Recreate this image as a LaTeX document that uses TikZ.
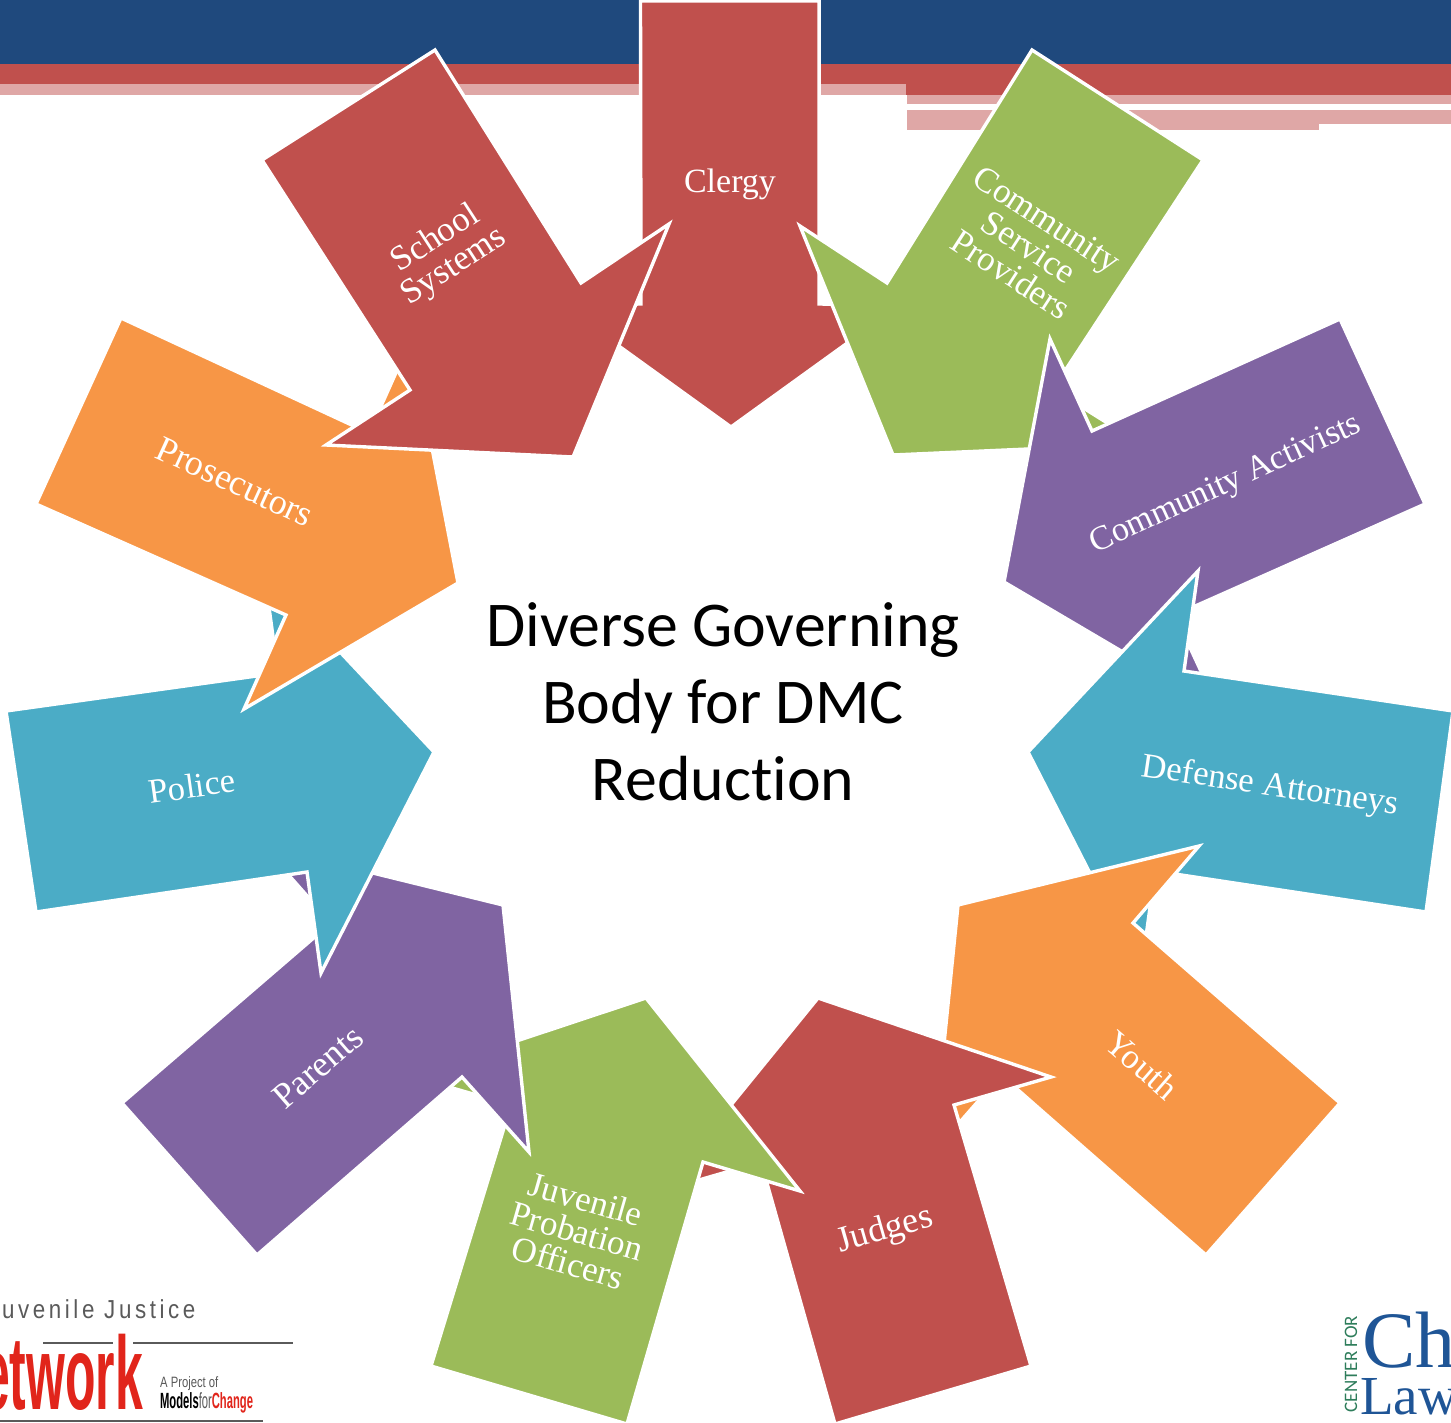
\documentclass[tikz,border=0pt]{standalone}
\usepackage{fontspec}
\setmainfont{Liberation Serif}
\newfontfamily\carlito[Ligatures=NoCommon]{Carlito}
\newfontfamily\lsans{Liberation Sans}
\newfontfamily\lspaced[LetterSpace=16]{Liberation Sans}
\definecolor{cblue}{HTML}{1F497D}
\definecolor{cred}{HTML}{C0504D}
\definecolor{cpink}{HTML}{DFA7A6}
\definecolor{cgreen}{HTML}{9BBB59}
\definecolor{cpurple}{HTML}{8064A2}
\definecolor{caqua}{HTML}{4BACC6}
\definecolor{corange}{HTML}{F79646}
\definecolor{lgray}{HTML}{5A5A5A}
\definecolor{lred}{HTML}{E1251B}
\definecolor{lblue}{HTML}{1F5596}
\definecolor{lgreen}{HTML}{2E7D5B}
\tikzset{
  arrowpoly/.style={draw=white,line width=3.4pt,line join=miter,miter limit=20,fill=#1},
  lab/.style={text=white,font=\fontsize{#1}{33}\selectfont,align=center,inner sep=0pt},
  lab/.default=35,
  logo/.style={inner sep=0pt,anchor=base west},
  logoline/.style={draw=lgray,line width=2.2pt}
}
\begin{document}
\begin{tikzpicture}[x=1pt,y=-1pt]
\useasboundingbox (0,0) rectangle (1451,1422);
\fill[white] (0,0) rectangle (1451,1422);
% header bands
\fill[cblue] (0,0) rectangle (640,64);
\fill[cblue] (821,0) rectangle (1451,64);
\fill[cred] (0,64) rectangle (640,84);
\fill[cpink] (0,84) rectangle (640,95);
\fill[cred] (821,64) rectangle (906,84);
\fill[cpink] (821,84) rectangle (906,95);
\fill[cred] (906,64) rectangle (1451,95);
\fill[cpink] (907,95) rectangle (1451,104);
\fill[cpink] (907,110) rectangle (1319,130);
\fill[cpink] (1319,110) rectangle (1451,124);
% arrows
\draw[arrowpoly=cred] (640.5,1) -- (819,1) -- (819,304) -- (900,305) -- (731,427) -- (562,305) -- (641,304) -- cycle;
\draw[arrowpoly=cgreen] (1032,50) -- (1203,160) -- (1053,389) -- (1141,444) -- (893,455) -- (800,226) -- (887,283) -- cycle;
\draw[arrowpoly=cpurple] (1340,319) -- (1425,504) -- (1175,615) -- (1218,708) -- (1004,582) -- (1050,339) -- (1092,431) -- cycle;
\draw[arrowpoly=caqua] (1453,711) -- (1426,912) -- (1155,871) -- (1141,973) -- (1028,752) -- (1198,571) -- (1184,671) -- cycle;
\draw[arrowpoly=corange] (1340,1103) -- (1206,1255) -- (1001,1075) -- (933,1153) -- (958,905) -- (1199,846) -- (1133,923) -- cycle;
\draw[arrowpoly=cred] (1031,1366) -- (835,1424) -- (761,1162) -- (661,1191) -- (818,998) -- (1051,1077) -- (954,1105) -- cycle;
\draw[arrowpoly=cgreen] (431,1366) -- (627,1424) -- (703,1162) -- (800,1191) -- (646,998) -- (411,1076) -- (511,1105) -- cycle;
\draw[arrowpoly=cpurple] (122,1103) -- (257,1255) -- (462,1077) -- (529,1152) -- (503,905) -- (263,846) -- (331,923) -- cycle;
\draw[arrowpoly=caqua] (6,711) -- (36,912) -- (307,872) -- (321,973) -- (434,752) -- (264,571) -- (278,673) -- cycle;
\draw[arrowpoly=corange] (121,318) -- (36,504) -- (286,615) -- (244,709) -- (458,583) -- (411,339) -- (369,433) -- cycle;
\draw[arrowpoly=cred] (435,50) -- (262,160) -- (410,390) -- (326,445) -- (573,457) -- (669,224) -- (581,283) -- cycle;
% labels
\node[lab=34] (clergy) at (730,184) {Clergy};
\node[lab,rotate=-33] (service) at (1029,247) {Community\\Service\\Providers};
\node[lab=34.3,rotate=24.6] (activists) at (1226,485) {Community Activists};
\node[lab=34.7,rotate=-8.5] (defense) at (1270,787) {Defense Attorneys};
\node[lab,rotate=-41] (youth) at (1142,1065) {Youth};
\node[lab=36,rotate=16] (judges) at (885,1231) {Judges};
\node[lab,rotate=-16] (probation) at (577,1231) {Juvenile\\Probation\\Officers};
\node[lab=36,rotate=41] (parents) at (318,1067) {Parents};
\node[lab=34.5,rotate=8] (police) at (192,786) {Police};
\node[lab=36,rotate=-24.6] (prosecutors) at (235,482) {Prosecutors};
\node[lab,rotate=33] (school) at (445,253) {School\\Systems};
\node[text=black,font=\carlito\fontsize{63.8}{77}\selectfont,align=center,inner sep=0pt] (center) at (723,702) {Diverse Governing\\Body for DMC\\Reduction};
% left logo
\node[logo,xscale=.86,text=lgray,font=\lspaced\fontsize{26}{26}\selectfont] (jj) at (2,1318) {uvenile Justice};
\draw[logoline] (43,1343) -- (113,1343);
\draw[logoline] (133,1343) -- (293,1343);
\draw[logoline] (0,1421) -- (263,1421);
\node[inner sep=0pt,anchor=base east,xscale=.48,text=lred,font=\lsans\bfseries\fontsize{104}{104}\selectfont] (net) at (143,1409) {etwork};
\node[logo,xscale=.75,text=lgray,font=\lsans\fontsize{15}{15}\selectfont] (proj) at (160,1387) {A Project of};
\node[logo,xscale=.51,font=\lsans\fontsize{22}{22}\selectfont] (mfc) at (160,1408) {\textbf{Models}\textcolor{lgray}{for}\textcolor{lred}{\textbf{Change}}};
% right logo
\node[inner sep=0pt,rotate=90,text=lgreen,font=\carlito\fontsize{19}{19}\selectfont] (cfor) at (1351,1364) {CENTER FOR};
\node[logo,text=lblue,font=\fontsize{80}{80}\selectfont] (ch) at (1362,1367) {Ch};
\node[logo,text=lblue,font=\fontsize{55}{55}\selectfont] (law) at (1360,1414) {Law};
\end{tikzpicture}
\end{document}
